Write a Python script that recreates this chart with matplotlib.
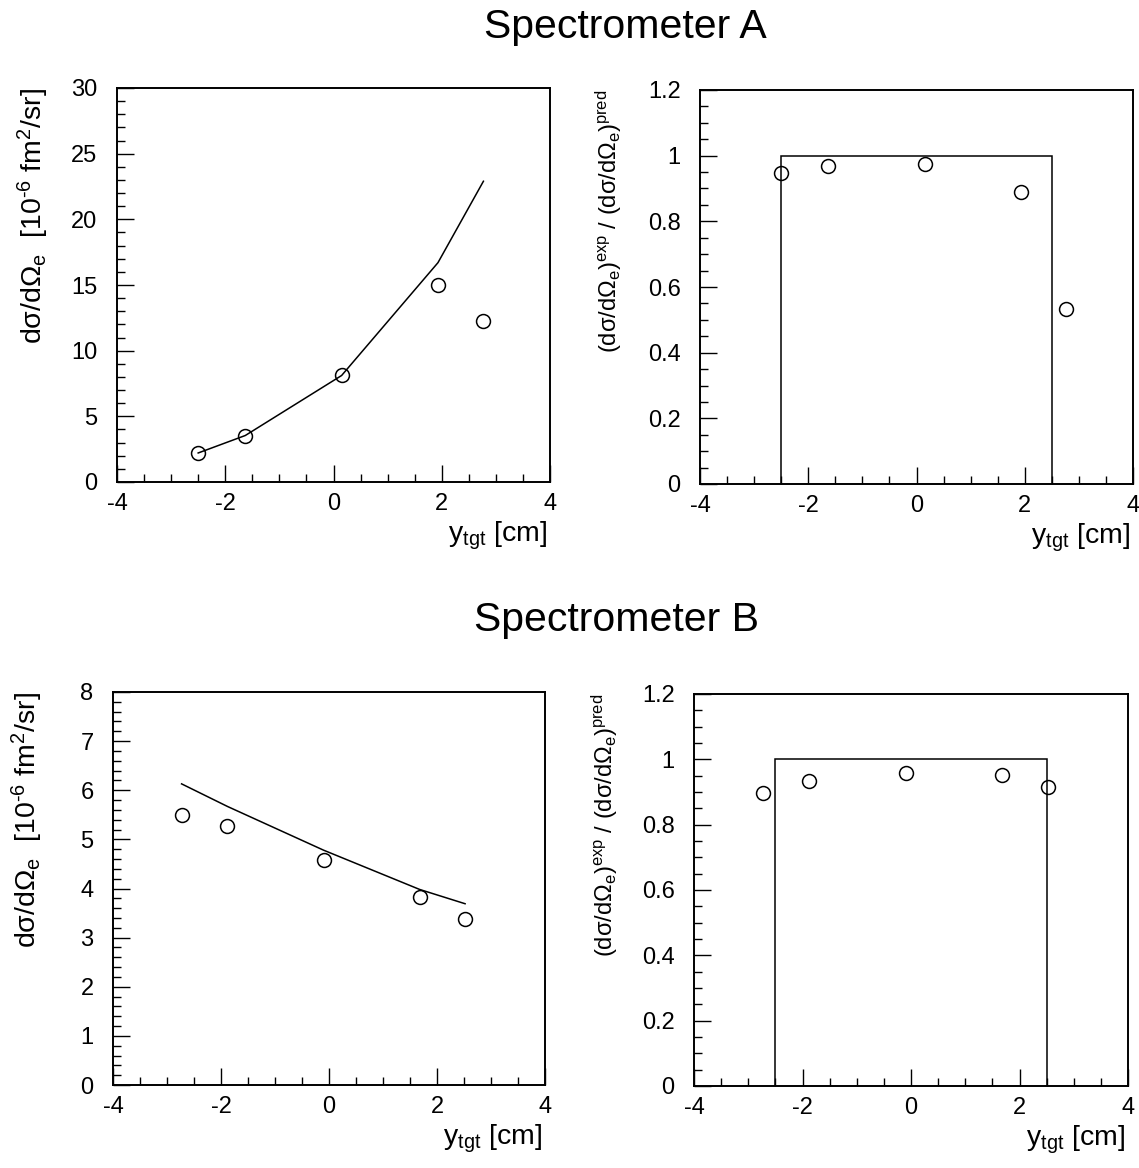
import matplotlib
matplotlib.use("Agg")
import matplotlib.pyplot as plt
from matplotlib.ticker import MultipleLocator

plt.rcParams['font.family'] = ['Liberation Sans', 'DejaVu Sans']
plt.rcParams['mathtext.fontset'] = 'custom'
plt.rcParams['mathtext.rm'] = 'Liberation Sans'
plt.rcParams['mathtext.it'] = 'Liberation Sans'
plt.rcParams['mathtext.default'] = 'rm'

# ---- data ----
A_x = [-2.50, -1.63, 0.15, 1.93, 2.77]
A_xsec = [2.21, 3.54, 8.11, 15.0, 12.28]
A_pred = [2.21, 3.54, 8.11, 16.7, 22.9]
A_ratio = [0.946, 0.970, 0.975, 0.888, 0.533]

B_x = [-2.73, -1.88, -0.10, 1.68, 2.52]
B_xsec = [5.49, 5.28, 4.59, 3.83, 3.38]
B_pred = [6.13, 5.67, 4.78, 3.98, 3.69]
B_ratio = [0.896, 0.934, 0.959, 0.952, 0.914]

acc_edges = [-2.5, 2.5]
acc_value = [1.0]

xticks = [-4, -2, 0, 2, 4]

W, H = 1139, 1168
fig = plt.figure(figsize=(W / 100, H / 100), dpi=100)

def box(l, r, t, b):
    return [l / W, 1 - b / H, (r - l) / W, (b - t) / H]

axTL = fig.add_axes(box(117, 550, 88, 482))
axTR = fig.add_axes(box(700, 1133, 90, 484))
axBL = fig.add_axes(box(113, 545, 692, 1085))
axBR = fig.add_axes(box(694, 1128, 694, 1086))

fs = 17
xlab = r'y$_{\rm tgt}$ [cm]'
ylab_xs = r'd$\sigma$/d$\Omega_{\rm e}$  [10$^{\text{-6}}$ fm$^{\rm 2}$/sr]'
ylab_ratio = r'(d$\sigma$/d$\Omega_{\rm e}$)$^{\rm exp}$ / (d$\sigma$/d$\Omega_{\rm e}$)$^{\rm pred}$'

def style(ax, ymax, ymaj, ymin, yfmt):
    ax.set_xlim(-4, 4)
    ax.set_ylim(0, ymax)
    ax.set_xticks(xticks)
    ax.xaxis.set_minor_locator(MultipleLocator(0.5))
    ax.yaxis.set_major_locator(MultipleLocator(ymaj))
    ax.yaxis.set_minor_locator(MultipleLocator(ymin))
    ax.set_xticklabels([str(v) for v in xticks])
    ax.yaxis.set_major_formatter(yfmt)
    ax.tick_params(which='both', direction='in', top=False, right=False,
                   labelsize=fs, width=1.0)
    ax.tick_params(axis='y', which='major', length=12, pad=14)
    ax.tick_params(axis='y', which='minor', length=6)
    ax.tick_params(axis='x', which='major', length=12, pad=8)
    ax.tick_params(axis='x', which='minor', length=6)
    for s in ax.spines.values():
        s.set_linewidth(1.4)

def fmt_ratio(v, pos):
    if abs(v) < 1e-9:
        return '0'
    if abs(v - 1) < 1e-9:
        return '1'
    return '%.1f' % v

def fmt_int(v, pos):
    return '%d' % round(v)

mk = dict(marker='o', ms=10, mfc='none', mec='black', mew=1.1, ls='none')

# Top-left
axTL.plot(A_x, A_pred, color='black', lw=1.1)
axTL.plot(A_x, A_xsec, **mk)
style(axTL, 30, 5, 1, plt.FuncFormatter(fmt_int))

# Top-right
axTR.stairs(acc_value, acc_edges, baseline=0, color='black', lw=1.1)
axTR.plot(A_x, A_ratio, **mk)
style(axTR, 1.2, 0.2, 0.05, plt.FuncFormatter(fmt_ratio))

# Bottom-left
axBL.plot(B_x, B_pred, color='black', lw=1.1)
axBL.plot(B_x, B_xsec, **mk)
style(axBL, 8, 1, 0.2, plt.FuncFormatter(fmt_int))

# Bottom-right
axBR.stairs(acc_value, acc_edges, baseline=0, color='black', lw=1.1)
axBR.plot(B_x, B_ratio, **mk)
style(axBR, 1.2, 0.2, 0.05, plt.FuncFormatter(fmt_ratio))

# axis labels
fy = 20.5
fr = 17
axTL.text(-0.194, 1.0, ylab_xs, rotation=90, ha='center', va='top',
          transform=axTL.transAxes, fontsize=fy)
axTR.text(-0.210, 1.0, ylab_ratio, rotation=90, ha='center', va='top',
          transform=axTR.transAxes, fontsize=fr)
axBL.text(-0.197, 1.0, ylab_xs, rotation=90, ha='center', va='top',
          transform=axBL.transAxes, fontsize=fy)
axBR.text(-0.205, 1.0, ylab_ratio, rotation=90, ha='center', va='top',
          transform=axBR.transAxes, fontsize=fr)

for ax in (axTL, axTR, axBL, axBR):
    ax.text(0.993, -0.152, xlab, ha='right', va='baseline',
            transform=ax.transAxes, fontsize=20.5)

fig.text(625 / W, 1 - 27 / H, 'Spectrometer A', ha='center', va='center', fontsize=29.5)
fig.text(617 / W, 1 - 620 / H, 'Spectrometer B', ha='center', va='center', fontsize=29.5)

fig.savefig('out.png', dpi=100, facecolor='white')
